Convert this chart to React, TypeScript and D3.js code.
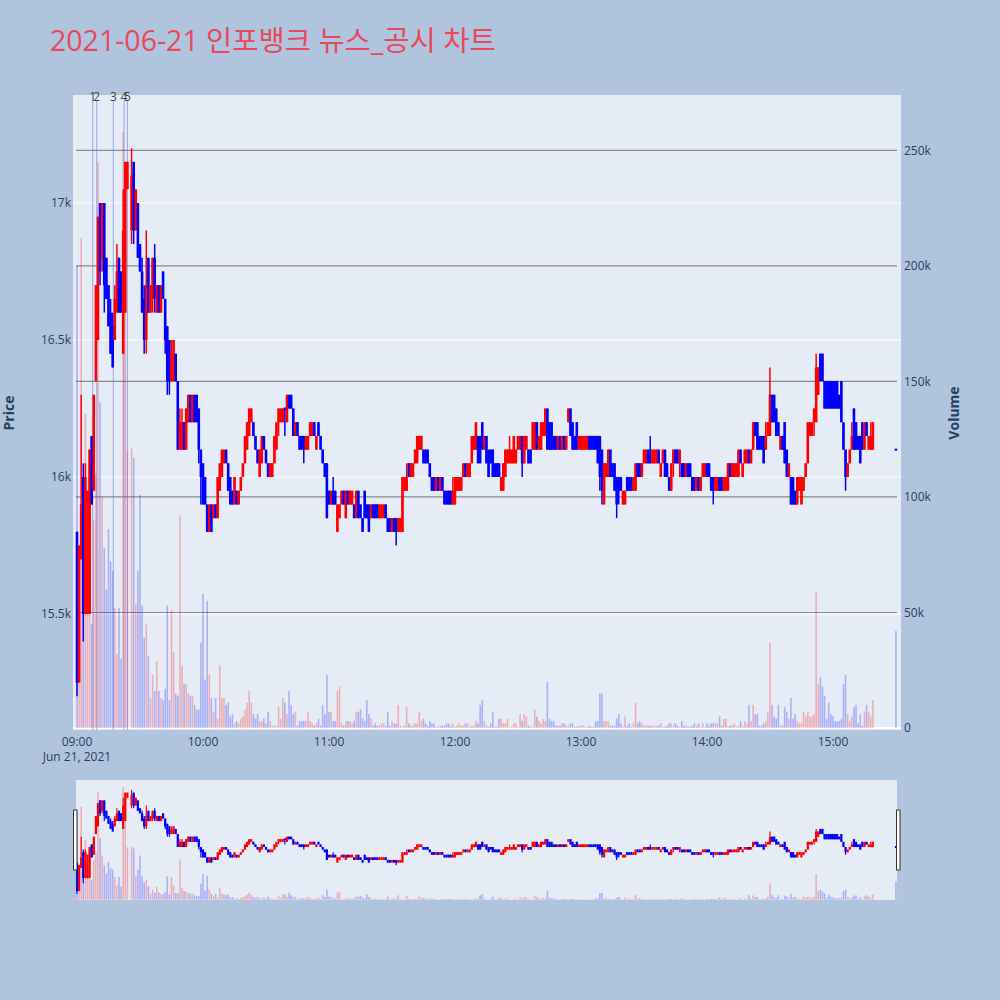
import React, { useEffect } from "react";
import * as d3 from "d3";

// one bar per minute from 09:00. prices are in 50-won ticks above 16,000, null = no trade
// (09:25 was a VI auction, 15:20-15:29 is the closing auction)
const openTicks: (number | null)[] = [
  -4, -15, -6, 0, -10, -10, -10, 3, -1, 7,
  10, 20, 16, 20, 16, 14, 12, 11, 10, 12,
  16, 15, 9, 12, 21, null, 18, 23, 18, 20,
  17, 15, 13, 10, 16, 12, 13, 16, 12, 14,
  12, 15, 13, 11, 10, 7, 7, 9, 7, 2,
  2, 4, 2, 4, 6, 4, 6, 6, 5, 2,
  1, 0, -2, -4, -2, -3, -2, -3, -1, 0,
  1, 2, 1, 0, -1, -2, -1, -2, -1, 0,
  1, 2, 3, 4, 4, 3, 2, 0, 1, 3,
  2, 1, 0, 0, 1, 2, 4, 4, 4, 5,
  4, 6, 6, 5, 3, 4, 3, 3, 3, 2,
  2, 3, 3, 4, 2, 4, 3, 2, 1, 1,
  -1, -2, -1, -1, -4, -3, -2, -1, -3, -1,
  -2, -2, -2, -3, -1, -2, -3, -1, -2, -2,
  -3, -2, -2, -2, -3, -3, -3, -2, -3, -3,
  -4, -3, -3, -4, -4, -4, -1, -1, 1, 0,
  0, 1, 1, 2, 2, 2, 2, 2, 1, 0,
  0, -1, 0, -1, 0, -1, -1, -1, -1, -2,
  -2, -1, -1, -1, 0, 1, 0, 0, 1, 2,
  2, 3, 3, 4, 2, 3, 2, 2, 2, 1,
  1, 1, -1, -1, 0, 1, 1, 1, 1, 1,
  2, 2, 3, 1, 2, 2, 2, 2, 2, 4,
  2, 2, 3, 3, 5, 4, 4, 3, 3, 2,
  3, 2, 3, 2, 4, 5, 4, 3, 4, 2,
  2, 2, 2, 2, 3, 3, 3, 3, 3, 3,
  2, -2, 0, 0, 2, 1, 1, 0, 0, 0,
  -2, -2, 0, 0, 0, -1, -1, 1, 1, 0,
  1, 1, 2, 2, 1, 1, 1, 2, 0, 1,
  2, 1, 0, -1, 1, 2, 2, 1, 1, 1,
  0, 1, 1, 0, 0, -1, 0, -1, 0, 0,
  1, 1, 0, 0, -1, -1, 0, 0, -1, -1,
  -1, 1, 0, 0, 0, 0, 2, 0, 1, 1,
  2, 1, 2, 4, 4, 3, 3, 3, 2, 3,
  3, 6, 6, 5, 4, 2, 3, 4, 2, 0,
  0, 0, -1, -2, -1, -2, -1, 0, 1, 3,
  3, 4, 4, 6, 9, 9, 7, 7, 7, 7,
  7, 7, 7, 6, 7, 4, 2, 0, 1, 2,
  5, 4, 3, 3, 4, 2, 4, 2, 2, 2,
  null, null, null, null, null, null, null, null, null, null,
  2,
];

const highTicks: (number | null)[] = [
  -4, -5, 6, 1, 1, -1, 2, 3, 6, 14,
  19, 20, 20, 20, 16, 14, 13, 12, 14, 17,
  16, 15, 21, 23, 23, null, 24, 23, 21, 20,
  17, 16, 14, 18, 16, 14, 16, 17, 14, 14,
  14, 15, 13, 11, 10, 10, 10, 9, 7, 5,
  5, 4, 5, 6, 6, 6, 6, 6, 5, 2,
  1, 0, -2, -2, -2, -2, -2, 0, 1, 2,
  2, 2, 1, 0, -1, 0, -1, -1, 0, 1,
  3, 4, 5, 5, 4, 3, 2, 2, 3, 3,
  2, 1, 1, 1, 3, 4, 5, 5, 5, 5,
  6, 6, 6, 5, 4, 4, 3, 3, 3, 3,
  3, 4, 4, 4, 3, 4, 3, 2, 1, 1,
  -1, -1, 0, -1, -2, -2, -1, -1, -1, -1,
  -1, -1, -2, -1, -1, -2, -3, -1, -2, -2,
  -2, -2, -2, -2, -2, -2, -2, -2, -3, -3,
  -3, -3, -3, -3, -3, 0, 0, 1, 1, 1,
  1, 2, 3, 3, 3, 2, 2, 2, 1, 0,
  0, 0, 0, 0, 0, -1, -1, -1, -1, 0,
  0, 0, 0, 0, 1, 1, 1, 1, 3, 3,
  4, 3, 3, 4, 3, 3, 2, 2, 2, 1,
  1, 1, 0, 1, 2, 2, 3, 2, 3, 2,
  3, 3, 3, 3, 3, 2, 2, 4, 4, 4,
  3, 4, 4, 5, 5, 4, 4, 3, 3, 3,
  3, 3, 3, 3, 5, 5, 4, 3, 4, 3,
  3, 3, 3, 3, 3, 3, 3, 3, 3, 3,
  2, 1, 1, 2, 2, 1, 1, 0, 0, 0,
  -1, -1, 0, 0, 0, 0, 1, 1, 1, 1,
  2, 2, 2, 3, 2, 2, 2, 2, 1, 2,
  2, 1, 0, 1, 2, 2, 2, 2, 1, 1,
  1, 1, 1, 0, 0, 0, 0, 0, 1, 1,
  1, 1, 0, 0, 0, 0, 0, 0, 0, 0,
  1, 1, 1, 1, 1, 2, 2, 1, 2, 2,
  2, 2, 4, 4, 4, 3, 3, 3, 4, 4,
  8, 6, 6, 5, 4, 3, 3, 4, 2, 1,
  0, 0, -1, 0, 0, 0, 0, 1, 4, 4,
  4, 5, 9, 8, 9, 9, 7, 7, 7, 7,
  7, 7, 7, 6, 7, 4, 2, 1, 2, 4,
  5, 4, 3, 3, 4, 4, 4, 3, 4, 4,
  null, null, null, null, null, null, null, null, null, null,
  2,
];

const lowTicks: (number | null)[] = [
  -16, -15, -6, -12, -10, -10, -10, -2, -1, 7,
  10, 14, 15, 12, 13, 11, 9, 8, 10, 12,
  12, 12, 9, 12, 21, null, 17, 17, 18, 16,
  15, 12, 9, 9, 12, 12, 12, 12, 12, 12,
  12, 13, 9, 6, 6, 7, 7, 7, 2, 2,
  2, 2, 2, 4, 4, 4, 4, 4, 1, -2,
  -2, -2, -4, -4, -4, -3, -3, -3, -1, 0,
  1, 1, -1, -2, -2, -2, -2, -2, -1, 0,
  1, 2, 3, 4, 3, 2, 1, 0, 1, 2,
  1, 0, 0, 0, 1, 2, 3, 4, 4, 3,
  4, 5, 5, 3, 3, 3, 2, 2, 1, 2,
  2, 3, 3, 3, 2, 3, 2, 1, 0, -3,
  -2, -2, -2, -2, -4, -3, -2, -2, -3, -2,
  -2, -2, -3, -3, -3, -3, -4, -3, -3, -4,
  -3, -3, -3, -3, -3, -3, -3, -3, -4, -4,
  -4, -4, -5, -4, -4, -4, -1, -1, 0, 0,
  0, 1, 1, 2, 2, 1, 1, 1, 0, -1,
  -1, -1, -1, -1, -1, -2, -2, -2, -2, -2,
  -2, -1, -1, -1, 0, 0, 0, 0, 1, 2,
  2, 1, 1, 2, 2, 1, 0, 1, 0, 0,
  0, 0, -1, -1, 0, 1, 1, 1, 1, 1,
  2, 2, 0, 1, 2, 1, 1, 2, 2, 2,
  2, 2, 3, 3, 2, 2, 2, 2, 2, 2,
  2, 2, 2, 2, 4, 3, 2, 2, 2, 2,
  2, 2, 2, 2, 2, 2, 2, 2, 1, -1,
  -2, -2, 0, 0, 0, 0, -1, -3, -2, -1,
  -2, -2, -1, -1, -1, -1, -1, 0, 0, 0,
  1, 1, 1, 1, 1, 1, 1, 1, 0, 1,
  0, 0, -1, -1, 0, 1, 1, 0, 0, 0,
  0, 0, 0, -1, -1, -1, -1, -1, 0, 0,
  0, 0, -1, -2, -1, -1, -1, -1, -1, -1,
  -1, 0, 0, 0, 0, 0, 1, 0, 1, 1,
  1, 1, 2, 3, 2, 2, 2, 1, 2, 3,
  3, 4, 4, 3, 3, 2, 2, 1, 0, 0,
  -2, -2, -2, -2, -1, -2, -1, 0, 1, 3,
  3, 3, 4, 6, 7, 7, 5, 5, 5, 5,
  5, 5, 5, 5, 4, 2, -1, 0, 1, 2,
  2, 2, 2, 1, 2, 2, 3, 2, 2, 2,
  null, null, null, null, null, null, null, null, null, null,
  2,
];

const closeTicks: (number | null)[] = [
  -15, -5, -2, -10, 0, -1, 2, -2, 6, 14,
  19, 15, 20, 14, 13, 11, 9, 8, 13, 15,
  12, 12, 18, 23, 23, null, 22, 18, 21, 16,
  15, 12, 10, 14, 12, 14, 16, 13, 14, 12,
  14, 13, 10, 7, 7, 9, 10, 7, 2, 4,
  4, 2, 5, 6, 4, 6, 4, 4, 2, 0,
  -2, -2, -4, -2, -4, -2, -3, 0, 1, 2,
  2, 1, -1, -2, -2, 0, -2, -1, 0, 1,
  3, 4, 5, 5, 3, 2, 1, 2, 3, 2,
  1, 0, 1, 1, 3, 4, 5, 5, 5, 5,
  6, 5, 5, 3, 4, 3, 2, 2, 2, 3,
  3, 4, 4, 3, 3, 3, 2, 1, 0, -3,
  -2, -1, -2, -2, -2, -2, -1, -2, -1, -2,
  -1, -1, -3, -1, -3, -3, -4, -3, -3, -4,
  -2, -3, -3, -3, -2, -2, -2, -3, -4, -4,
  -3, -4, -4, -3, -3, 0, 0, 0, 0, 1,
  1, 2, 3, 3, 3, 1, 1, 1, 0, -1,
  -1, 0, -1, 0, -1, -2, -2, -2, -2, -1,
  0, 0, 0, 0, 1, 0, 1, 1, 3, 3,
  4, 1, 1, 2, 3, 1, 0, 1, 0, 0,
  0, 0, 0, 1, 2, 2, 2, 2, 3, 2,
  3, 3, 1, 3, 3, 1, 1, 4, 4, 2,
  3, 4, 4, 5, 2, 2, 2, 2, 2, 3,
  2, 3, 2, 3, 5, 3, 2, 2, 2, 3,
  3, 3, 3, 3, 2, 2, 2, 2, 1, 0,
  -1, 1, 1, 2, 0, 0, -1, -2, -1, -1,
  -1, -1, -1, -1, -1, 0, 1, 0, 0, 1,
  2, 2, 1, 1, 2, 2, 2, 1, 1, 2,
  0, 0, -1, 1, 2, 1, 1, 2, 0, 0,
  1, 0, 0, -1, -1, 0, -1, 0, 1, 1,
  0, 0, -1, -1, 0, 0, -1, -1, 0, 0,
  1, 0, 1, 1, 1, 2, 1, 1, 2, 2,
  1, 2, 4, 3, 2, 2, 2, 1, 3, 4,
  6, 4, 4, 3, 3, 3, 2, 1, 0, 1,
  -2, -2, -2, 0, 0, 0, 0, 1, 4, 4,
  4, 5, 8, 8, 7, 7, 5, 5, 5, 5,
  5, 5, 5, 5, 4, 2, 0, 1, 2, 3,
  2, 2, 2, 1, 2, 4, 3, 3, 3, 4,
  null, null, null, null, null, null, null, null, null, null,
  2,
];

// traded volume per minute, thousands of shares
const volumeK: (number | null)[] = [
  200, 60, 212, 50, 136, 70, 115, 45, 90, 110,
  245, 141, 100, 78, 60, 86, 72, 68, 52, 32,
  52, 30, 258, 180, 120, null, 121, 117, 54, 68,
  101, 53, 39, 45, 31, 13, 23, 16, 29, 16,
  13, 12, 17, 53, 12, 51, 33, 15, 14, 92,
  27, 19, 19, 15, 14, 14, 10, 8, 8, 37,
  58, 21, 55, 23, 13, 7, 13, 4, 27, 13,
  13, 10, 11, 5, 6, 2, 3, 2, 4, 5,
  8, 11, 16, 11, 6, 4, 6, 3, 3, 4,
  2, 7, 3, 1, 1, 1, 9, 4, 13, 11,
  6, 16, 10, 6, 7, 1, 3, 3, 3, 3,
  7, 3, 2, 1, 2, 4, 1, 10, 6, 23,
  7, 7, 3, 3, 16, 18, 2, 1, 3, 3,
  3, 2, 3, 7, 7, 8, 4, 3, 12, 6,
  4, 1, 2, 1, 1, 2, 2, 1, 7, 1,
  3, 2, 2, 10, 1, 0.5, 1, 9, 2, 1,
  1, 2, 2, 7, 3, 4, 2, 1, 3, 2,
  2, 0.5, 0.5, 1, 1, 1, 2, 2, 1, 2,
  0.5, 1, 2, 1, 1, 2, 2, 0.5, 1, 1,
  3, 2, 10, 12, 3, 1, 0.5, 2, 7, 0.5,
  0.5, 4, 4, 2, 2, 4, 0.5, 0.5, 2, 2,
  0.5, 6, 3, 6, 5, 1, 0.5, 0.5, 8, 5,
  3, 2, 4, 3, 20, 4, 3, 3, 1, 1,
  1, 2, 2, 1, 1, 2, 2, 0.5, 0.5, 1,
  1, 1, 0.5, 0.5, 1, 0.5, 0.5, 3, 3, 15,
  15, 3, 3, 3, 1, 1, 1, 4, 6, 2,
  0.5, 5, 1, 2, 0.5, 2, 11, 2, 3, 2,
  1, 1, 1, 1, 1, 1, 1, 1, 2, 0.5,
  0.5, 1, 2, 2, 1, 2, 1, 0.5, 3, 1,
  1, 0.5, 0.5, 1, 2, 1, 2, 0.5, 2, 0.5,
  2, 1, 2, 2, 2, 2, 5, 1, 4, 4,
  0.5, 1, 1, 2, 0.5, 1, 3, 1, 3, 2,
  10, 3, 10, 6, 6, 1, 1, 2, 3, 7,
  37, 10, 5, 4, 10, 1, 1, 9, 7, 4,
  13, 4, 6, 3, 2, 2, 7, 5, 7, 5,
  5, 6, 59, 19, 22, 18, 14, 4, 11, 6,
  5, 3, 3, 3, 4, 19, 23, 6, 3, 5,
  9, 10, 2, 6, 1, 7, 10, 7, 5, 12,
  null, null, null, null, null, null, null, null, null, null,
  42,
];

// news / disclosure times, numbered at the top of the chart
const newsTimes = ["09:07:30", "09:09:24", "09:17:18", "09:22:24", "09:24:00"];
const newsLabels = ["1", "2", "3", "4", "5"];

const priceTicks = [15500, 16000, 16500, 17000];
const volumeTicks = [0, 50000, 100000, 150000, 200000, 250000];

const tradeDay = "2021-06-21";
const chartTitle = "2021-06-21 인포뱅크 뉴스_공시 차트";

const UP = "#ff0000";
const DOWN = "#0000ff";
const FONT = "'Open Sans', verdana, arial, sans-serif";
const INK = "#2a3f5f";

const parseT = d3.timeParse("%Y-%m-%d %H:%M:%S");
const sessionOpen = parseT(`${tradeDay} 09:00:00`) as Date;
const sessionClose = parseT(`${tradeDay} 15:30:00`) as Date;
const fromTick = (k: number) => 16000 + 50 * k;

const bars = closeTicks.flatMap((c, i) => {
  if (c === null) return [];
  const o = fromTick(openTicks[i] as number);
  const cl = fromTick(c);
  return [
    {
      t: d3.timeMinute.offset(sessionOpen, i),
      o,
      h: fromTick(highTicks[i] as number),
      l: fromTick(lowTicks[i] as number),
      c: cl,
      v: (volumeK[i] as number) * 1000,
      up: cl > o,
    },
  ];
});

const plot = { left: 73, right: 901, top: 95, bottom: 730 };
const slider = { left: 76, right: 897, top: 780, bottom: 900 };

const x = d3
  .scaleTime()
  .domain([d3.timeSecond.offset(sessionOpen, -114), d3.timeSecond.offset(sessionClose, 144)])
  .range([plot.left, plot.right]);
const yPrice = d3.scaleLinear().domain([15077, 17394]).range([plot.bottom, plot.top]);
const yVol = d3.scaleLinear().domain([-870, 274000]).range([plot.bottom, plot.top]);
const sPrice = d3.scaleLinear().domain(yPrice.domain()).range([slider.bottom, slider.top]);
const sVol = d3.scaleLinear().domain(yVol.domain()).range([slider.bottom, slider.top]);

const fmtHour = d3.timeFormat("%H:%M");
const fmtDate = d3.timeFormat("%b %-d, %Y");
const fmtK = d3.format("~s");

function Candles({ ys, body, wick }: { ys: any; body: number; wick: number }) {
  return (
    <g>
      {bars.map((d, i) => {
        const cx = x(d.t);
        const col = d.up ? UP : DOWN;
        const y0 = ys(Math.max(d.o, d.c));
        const y1 = ys(Math.min(d.o, d.c));
        // flat bodies still show as a short bar, like plotly's 2px outline
        const pad = y1 - y0 < 2 ? (2 - (y1 - y0)) / 2 : 0;
        return (
          <g key={i}>
            <line x1={cx} x2={cx} y1={ys(d.h)} y2={ys(d.l)} stroke={col} strokeWidth={wick} />
            <rect x={cx - body / 2} width={body} y={y0 - pad} height={y1 - y0 + 2 * pad} fill={col} />
          </g>
        );
      })}
    </g>
  );
}

function Volumes({ ys, w }: { ys: any; w: number }) {
  return (
    <g opacity={0.25}>
      {bars.map((d, i) => (
        <rect
          key={i}
          x={x(d.t) - w / 2}
          width={w}
          y={ys(d.v)}
          height={ys(0) - ys(d.v)}
          fill={d.up ? UP : DOWN}
        />
      ))}
    </g>
  );
}

export default function App() {
  useEffect(() => {
    document.body.style.margin = "0";
  }, []);

  const hours = x.ticks(d3.timeHour.every(1) as any);
  const news = newsTimes.map((s) => parseT(`${tradeDay} ${s}`) as Date);

  return (
    <div style={{ position: "absolute", left: 0, top: 0, width: 1000, height: 1000 }}>
      <svg width={1000} height={1000} style={{ display: "block", fontFamily: FONT }}>
        <defs>
          <clipPath id="plotClip">
            <rect x={plot.left} y={plot.top} width={plot.right - plot.left} height={plot.bottom - plot.top} />
          </clipPath>
          <clipPath id="sliderClip">
            <rect x={slider.left} y={slider.top} width={slider.right - slider.left} height={slider.bottom - slider.top} />
          </clipPath>
        </defs>
        <rect width={1000} height={1000} fill="#b0c4de" />
        <text x={50} y={51} fontSize={28.5} fill="#e8495c" fontFamily="'Open Sans', 'Noto Sans CJK KR', sans-serif">
          {chartTitle}
        </text>

        <rect x={plot.left} y={plot.top} width={plot.right - plot.left} height={plot.bottom - plot.top} fill="#e5ecf6" />

        {/* price grid */}
        {priceTicks.map((p) => (
          <line key={p} x1={plot.left} x2={plot.right} y1={yPrice(p)} y2={yPrice(p)} stroke="#ffffff" strokeWidth={1} />
        ))}
        {/* volume grid */}
        {volumeTicks.slice(1).map((v) => (
          <line key={v} x1={76} x2={897} y1={yVol(v)} y2={yVol(v)} stroke="#8a8a8a" strokeWidth={1.2} />
        ))}
        <line x1={plot.left} x2={plot.right} y1={yVol(0)} y2={yVol(0)} stroke="#ffffff" strokeWidth={2} />

        <g clipPath="url(#plotClip)">
          <Volumes ys={yVol} w={1.6} />
          {news.map((t, i) => (
            <line key={i} x1={x(t)} x2={x(t)} y1={100} y2={plot.bottom} stroke="#5a6fe0" strokeOpacity={0.55} strokeWidth={1} />
          ))}
          <Candles ys={yPrice} body={2.6} wick={1.5} />
        </g>

        {news.map((t, i) => (
          <text key={i} x={x(t)} y={101} fontSize={12} fill="#444" textAnchor="middle">
            {newsLabels[i]}
          </text>
        ))}

        {/* axes */}
        {hours.map((t, i) => (
          <g key={i} fill={INK} fontSize={12} textAnchor="middle">
            <text x={x(t)} y={746}>
              {fmtHour(t)}
            </text>
            {i === 0 && (
              <text x={x(t)} y={761}>
                {fmtDate(t)}
              </text>
            )}
          </g>
        ))}
        {priceTicks.map((p) => (
          <text key={p} x={71} y={yPrice(p)} dy="0.35em" fontSize={12} fill={INK} textAnchor="end">
            {fmtK(p)}
          </text>
        ))}
        {volumeTicks.map((v) => (
          <text key={v} x={904} y={yVol(v)} dy="0.35em" fontSize={12} fill={INK}>
            {fmtK(v)}
          </text>
        ))}
        <text transform="translate(14,413) rotate(-90)" fontSize={14} fontWeight="bold" fill={INK} textAnchor="middle">
          Price
        </text>
        <text transform="translate(959,413) rotate(-90)" fontSize={14} fontWeight="bold" fill={INK} textAnchor="middle">
          Volume
        </text>

        {/* range slider */}
        <rect x={slider.left} y={slider.top} width={slider.right - slider.left} height={slider.bottom - slider.top} fill="#e5ecf6" />
        <g clipPath="url(#sliderClip)">
          <Volumes ys={sVol} w={1.6} />
          <Candles ys={sPrice} body={2.2} wick={1.2} />
        </g>
        <rect x={73.5} y={810} width={3.5} height={60} fill="#fff" stroke="#333" strokeWidth={1} />
        <rect x={896.5} y={810} width={3.5} height={60} fill="#fff" stroke="#333" strokeWidth={1} />
      </svg>
    </div>
  );
}
